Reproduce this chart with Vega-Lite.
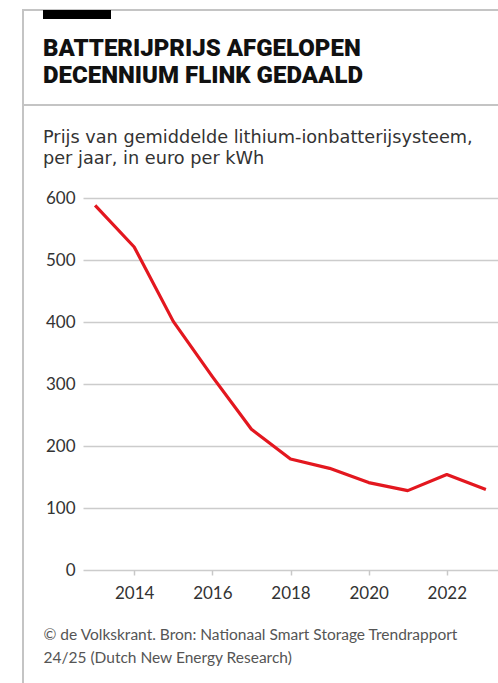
{
  "$schema": "https://vega.github.io/schema/vega-lite/v6.json",
  "autosize": {"type": "none"},
  "width": 415,
  "height": 372,
  "padding": {"left": 83, "top": 198, "right": 0, "bottom": 113},
  "background": "#ffffff",
  "config": {"view": {"stroke": null}},
  "title": {
    "text": ["BATTERIJPRIJS AFGELOPEN", "DECENNIUM FLINK GEDAALD"],
    "subtitle": ["Prijs van gemiddelde lithium-ionbatterijsysteem,", "per jaar, in euro per kWh"],
    "anchor": "start",
    "frame": "group",
    "dx": -40,
    "offset": -160,
    "font": "Roboto",
    "fontSize": 24,
    "fontWeight": 900,
    "lineHeight": 27,
    "color": "#111111",
    "subtitleFont": "DejaVu Sans",
    "subtitleFontSize": 17.7,
    "subtitleLineHeight": 21,
    "subtitleColor": "#333333",
    "subtitlePadding": 41
  },
  "data": {
    "values": [
      {"year": 2013, "price": 588},
      {"year": 2014, "price": 521},
      {"year": 2015, "price": 401},
      {"year": 2016, "price": 312},
      {"year": 2017, "price": 227},
      {"year": 2018, "price": 179},
      {"year": 2019, "price": 164},
      {"year": 2020, "price": 141},
      {"year": 2021, "price": 128},
      {"year": 2022, "price": 154},
      {"year": 2023, "price": 130}
    ]
  },
  "layer": [
    {
      "mark": {"type": "line", "color": "#e3171f", "strokeWidth": 3.2, "strokeJoin": "round"},
      "encoding": {
        "x": {
          "field": "year",
          "type": "quantitative",
          "scale": {"domain": [2012.69, 2023.31], "nice": false, "zero": false},
          "axis": {
            "values": [2014, 2016, 2018, 2020, 2022],
            "format": "d",
            "grid": false,
            "domain": false,
            "ticks": true,
            "tickSize": 5,
            "tickColor": "#c8c8c8",
            "tickWidth": 1.5,
            "labelFont": "Lato",
            "labelFontSize": 17,
            "labelColor": "#333333",
            "labelPadding": 10,
            "title": ["© de Volkskrant. Bron: Nationaal Smart Storage Trendrapport", "24/25 (Dutch New Energy Research)"],
            "titleFont": "Lato",
            "titleFontSize": 15.5,
            "titleFontWeight": "normal",
            "titleColor": "#555555",
            "titleAnchor": "start",
            "titleAlign": "left",
            "titleBaseline": "alphabetic",
            "titleX": -40,
            "titleY": 69,
            "titleLineHeight": 23
          }
        },
        "y": {
          "field": "price",
          "type": "quantitative",
          "scale": {"domain": [0, 600], "nice": false},
          "axis": {
            "values": [0, 100, 200, 300, 400, 500, 600],
            "grid": true,
            "gridColor": "#cccccc",
            "gridWidth": 1.5,
            "domain": false,
            "ticks": false,
            "labelFont": "Lato",
            "labelFontSize": 17,
            "labelColor": "#333333",
            "labelPadding": 8,
            "title": null
          }
        }
      }
    },
    {
      "data": {"values": [{"k": "top"}]},
      "mark": {"type": "rule", "color": "#c4c4c4", "strokeWidth": 2},
      "encoding": {"x": {"value": -60}, "x2": {"value": 420}, "y": {"value": -188}, "y2": {"value": -188}}
    },
    {
      "data": {"values": [{"k": "sep"}]},
      "mark": {"type": "rule", "color": "#c4c4c4", "strokeWidth": 2},
      "encoding": {"x": {"value": -60}, "x2": {"value": 420}, "y": {"value": -93}, "y2": {"value": -93}}
    },
    {
      "data": {"values": [{"k": "left"}]},
      "mark": {"type": "rule", "color": "#c4c4c4", "strokeWidth": 2},
      "encoding": {"x": {"value": -60}, "x2": {"value": -60}, "y": {"value": -189}, "y2": {"value": 490}}
    },
    {
      "data": {"values": [{"k": "bar"}]},
      "mark": {"type": "rect", "color": "#000000"},
      "encoding": {"x": {"value": -40}, "x2": {"value": 28}, "y": {"value": -188}, "y2": {"value": -179}}
    }
  ]
}
